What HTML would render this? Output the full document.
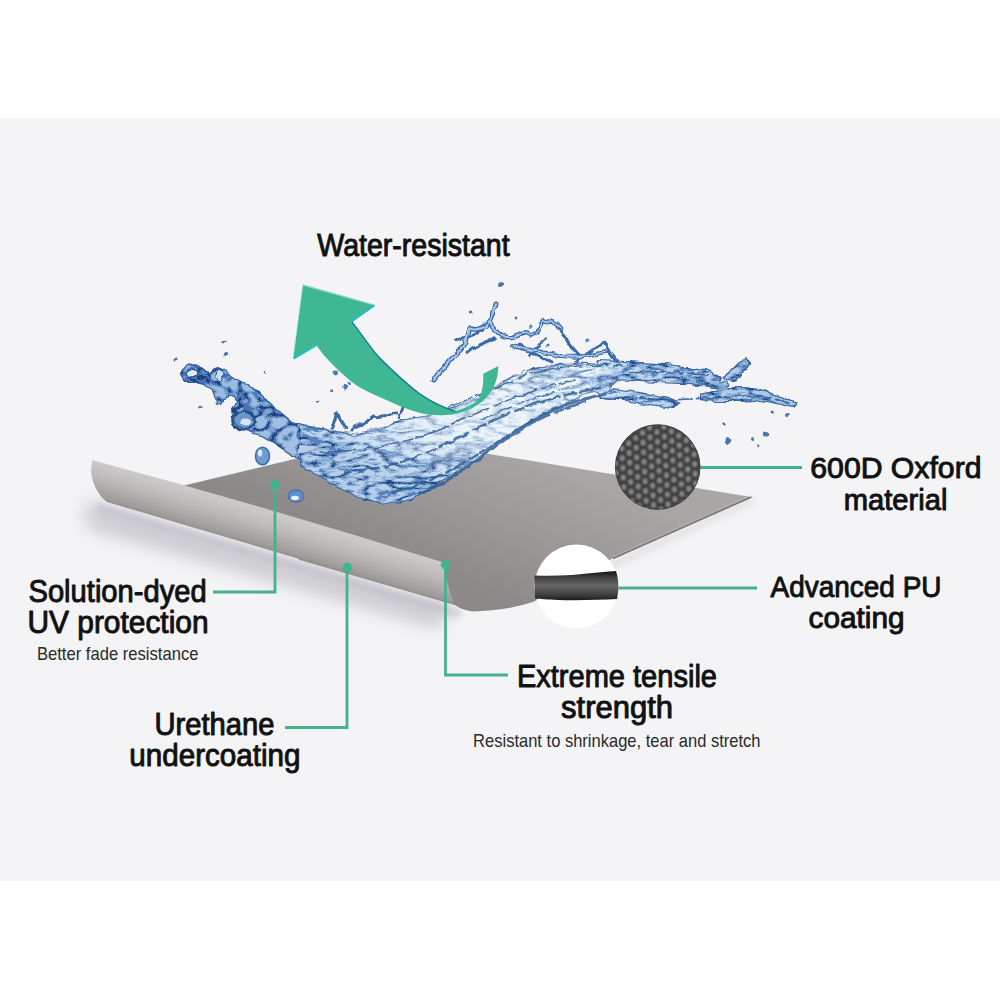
<!DOCTYPE html>
<html><head><meta charset="utf-8">
<style>
html,body{margin:0;padding:0;background:#fff;}
body{width:1000px;height:1000px;overflow:hidden;position:relative;font-family:"Liberation Sans",sans-serif;}
svg{position:absolute;left:0;top:0;display:block;}
.t{font-family:"Liberation Sans",sans-serif;fill:#111;stroke:#111;stroke-width:0.95px;stroke-linejoin:round;}
.s{font-family:"Liberation Sans",sans-serif;fill:#2a2a2a;}
</style></head>
<body>
<svg width="1000" height="1000" viewBox="0 0 1000 1000">
<defs>
  <linearGradient id="flatG" gradientUnits="userSpaceOnUse" x1="560" y1="460" x2="500" y2="600">
    <stop offset="0" stop-color="#aaa6a6"/>
    <stop offset="0.5" stop-color="#9d9999"/>
    <stop offset="1" stop-color="#8d8989"/>
  </linearGradient>
  <linearGradient id="curlG" gradientUnits="userSpaceOnUse" x1="92" y1="460" x2="92" y2="498" gradientTransform="rotate(16.5 92 460)">
    <stop offset="0" stop-color="#ccc9c9"/>
    <stop offset="0.1" stop-color="#c8c5c5"/>
    <stop offset="0.35" stop-color="#bfbbbb"/>
    <stop offset="0.6" stop-color="#b0acac"/>
    <stop offset="0.85" stop-color="#a09c9c"/>
    <stop offset="1" stop-color="#8d8989"/>
  </linearGradient>
  <filter id="blur6" x="-20%" y="-50%" width="140%" height="200%"><feGaussianBlur stdDeviation="9"/></filter>
  <filter id="blur3" x="-20%" y="-50%" width="140%" height="200%"><feGaussianBlur stdDeviation="3"/></filter>

  <pattern id="mesh" patternUnits="userSpaceOnUse" x="612" y="420" width="14.4" height="9.7" patternTransform="rotate(-3 657 467)">
    <rect width="14.4" height="9.7" fill="#3b3b3b"/>
    <ellipse cx="3.6" cy="2.4" rx="2.4" ry="2.9" fill="#8c8c8c"/>
    <ellipse cx="3.6" cy="12.1" rx="2.4" ry="2.9" fill="#8c8c8c"/>
    <ellipse cx="10.8" cy="7.25" rx="2.4" ry="2.9" fill="#8c8c8c"/>
    <ellipse cx="10.8" cy="-2.45" rx="2.4" ry="2.9" fill="#8c8c8c"/>
  </pattern>
  <filter id="soft" x="-5%" y="-5%" width="110%" height="110%"><feGaussianBlur stdDeviation="1"/></filter>
  <linearGradient id="puG" gradientUnits="userSpaceOnUse" x1="0" y1="573" x2="0" y2="601">
    <stop offset="0" stop-color="#1e1e1e"/>
    <stop offset="0.12" stop-color="#3a3a3a"/>
    <stop offset="0.45" stop-color="#676767"/>
    <stop offset="0.8" stop-color="#3c3c3c"/>
    <stop offset="1" stop-color="#151515"/>
  </linearGradient>
  <linearGradient id="waterG" gradientUnits="userSpaceOnUse" x1="180" y1="380" x2="330" y2="440">
    <stop offset="0" stop-color="#a8c3e5"/>
    <stop offset="1" stop-color="#b8cfea"/>
  </linearGradient>
  <linearGradient id="basinG" gradientUnits="userSpaceOnUse" x1="480" y1="380" x2="420" y2="500">
    <stop offset="0" stop-color="#ffffff"/>
    <stop offset="0.4" stop-color="#f4f8fc"/>
    <stop offset="1" stop-color="#cddcef"/>
  </linearGradient>
  <linearGradient id="tailG" gradientUnits="userSpaceOnUse" x1="590" y1="0" x2="800" y2="0">
    <stop offset="0" stop-color="#e6eef8"/>
    <stop offset="0.4" stop-color="#cfdff1"/>
    <stop offset="1" stop-color="#bcd1ea"/>
  </linearGradient>
  <filter id="wArm" x="-10%" y="-10%" width="120%" height="120%" color-interpolation-filters="sRGB">
    <feTurbulence type="fractalNoise" baseFrequency="0.07" numOctaves="2" seed="4" result="dn"/>
    <feDisplacementMap in="SourceGraphic" in2="dn" scale="7" xChannelSelector="R" yChannelSelector="G" result="disp"/>
    <feTurbulence type="turbulence" baseFrequency="0.05 0.065" numOctaves="2" seed="5" result="n"/>
    <feColorMatrix in="n" type="matrix" values="1 0 0 0 0  1 0 0 0 0  1 0 0 0 0  0 0 0 0 1" result="g"/>
    <feComponentTransfer in="g" result="p">
      <feFuncR type="discrete" tableValues="0.170 0.430 0.690 0.900 0.900 0.900 0.690 0.430 0.900 0.900"/>
      <feFuncG type="discrete" tableValues="0.330 0.590 0.800 0.940 0.940 0.940 0.800 0.590 0.940 0.940"/>
      <feFuncB type="discrete" tableValues="0.550 0.780 0.905 0.976 0.976 0.976 0.905 0.780 0.976 0.976"/>
    </feComponentTransfer>
    <feBlend in="p" in2="disp" mode="multiply" result="m"/>
    <feComposite in="m" in2="disp" operator="in"/>
  </filter>
  <filter id="wBasin" x="-10%" y="-10%" width="120%" height="120%" color-interpolation-filters="sRGB">
    <feTurbulence type="fractalNoise" baseFrequency="0.07" numOctaves="2" seed="4" result="dn"/>
    <feDisplacementMap in="SourceGraphic" in2="dn" scale="7" xChannelSelector="R" yChannelSelector="G" result="disp"/>
    <feTurbulence type="turbulence" baseFrequency="0.03 0.09" numOctaves="3" seed="8" result="n"/>
    <feColorMatrix in="n" type="matrix" values="1 0 0 0 0  1 0 0 0 0  1 0 0 0 0  0 0 0 0 1" result="g"/>
    <feComponentTransfer in="g" result="p">
      <feFuncR type="discrete" tableValues="0.170 0.430 0.690 0.900 0.900 0.690 0.430 0.690 0.900 0.900"/>
      <feFuncG type="discrete" tableValues="0.330 0.590 0.800 0.940 0.940 0.800 0.590 0.800 0.940 0.940"/>
      <feFuncB type="discrete" tableValues="0.550 0.780 0.905 0.976 0.976 0.905 0.780 0.905 0.976 0.976"/>
    </feComponentTransfer>
    <feBlend in="p" in2="disp" mode="multiply" result="m"/>
    <feComposite in="m" in2="disp" operator="in"/>
  </filter>
  <filter id="wEdge" x="-10%" y="-10%" width="120%" height="120%" color-interpolation-filters="sRGB">
    <feTurbulence type="fractalNoise" baseFrequency="0.07" numOctaves="2" seed="4" result="dn"/>
    <feDisplacementMap in="SourceGraphic" in2="dn" scale="7" xChannelSelector="R" yChannelSelector="G" result="disp"/>
    <feMorphology in="disp" operator="erode" radius="1.3" result="er"/>
    <feComposite in="disp" in2="er" operator="out" result="edge"/>
    <feFlood flood-color="#2f5c96" flood-opacity="0.85"/>
    <feComposite in2="edge" operator="in"/>
  </filter>
  <linearGradient id="basinLight" gradientUnits="userSpaceOnUse" x1="430" y1="470" x2="620" y2="360">
    <stop offset="0" stop-color="#f2f8fd" stop-opacity="0"/>
    <stop offset="0.5" stop-color="#f2f8fd" stop-opacity="0.5"/>
    <stop offset="0.8" stop-color="#f2f8fd" stop-opacity="0.35"/>
    <stop offset="1" stop-color="#f2f8fd" stop-opacity="0.05"/>
  </linearGradient>
  <filter id="wob" x="-10%" y="-10%" width="120%" height="120%">
    <feTurbulence type="fractalNoise" baseFrequency="0.12" numOctaves="2" seed="6" result="dn"/>
    <feDisplacementMap in="SourceGraphic" in2="dn" scale="5" xChannelSelector="R" yChannelSelector="G"/>
  </filter>
  <radialGradient id="basinCenter" gradientUnits="userSpaceOnUse" cx="450" cy="425" r="85" gradientTransform="translate(450 425) scale(1.4 0.6) rotate(-20) translate(-450 -425)">
    <stop offset="0" stop-color="#f4f9fd" stop-opacity="0.6"/>
    <stop offset="0.6" stop-color="#f4f9fd" stop-opacity="0.35"/>
    <stop offset="1" stop-color="#f4f9fd" stop-opacity="0"/>
  </radialGradient>
</defs>
<rect x="0" y="0" width="1000" height="1000" fill="#ffffff"/>
<rect x="0" y="118" width="1000" height="763" fill="#f4f4f6"/>

<!-- shadow under curl -->
<path d="M 84,502 L 450,608 L 440,628 L 88,528 Z" fill="#a4a4ad" opacity="0.55" filter="url(#blur6)"/>
<path d="M 95,502 L 462,610 L 458,618 L 98,512 Z" fill="#aeaeb5" opacity="0.5" filter="url(#blur3)"/>
<path d="M 751,497 L 613,560 L 600,575 L 755,503 Z" fill="#c4c4ca" opacity="0.35" filter="url(#blur3)"/>

<!-- flat sheet -->
<path d="M 184,485.5 L 386,437 L 751,497 L 613,558 Q 560,588 533,602 Q 505,611 472,611.5 Q 460,609 455,605 L 300,560 Z" fill="url(#flatG)"/>
<path d="M 749,496.2 L 613,556.8" stroke="#bcb8b8" stroke-width="1" fill="none" opacity="0.8"/>
<path d="M 751.5,497 L 613,558.6" stroke="#7a7676" stroke-width="1.6" fill="none"/>
<!-- curl -->
<path d="M 92,460 Q 267,507 442,562 C 446,575 448,590 455,605 L 107,502 C 99,496 93,486 91,472 Z" fill="url(#curlG)"/>


<!-- water -->
<g id="water">
  <g filter="url(#wArm)">
    <path fill="url(#waterG)" d="M 181,372 L 186,366 L 193,364 L 198,366 L 203,370 L 210,372 L 214,368 L 220,367 L 226,370 L 232,376 L 240,380 L 248,384 L 256,391 L 264,398 L 272,405 L 282,413 L 292,421 L 305,426 L 325,430 L 330,475 L 310,466 L 296,458 L 282,449 L 270,441 L 258,434 L 248,431 L 240,428 L 234,420 L 232,410 L 236,402 L 232,397 L 224,398 L 220,404 L 216,405 L 215,396 L 212,388 L 204,385 L 196,383 L 188,383 L 183,380 Z"/>
  </g>
  <g filter="url(#wBasin)">
    <path fill="url(#basinG)" d="M 300,424.4 L 328,430 L 356,434 L 384,427 L 406,419 L 426,416 L 454,407.6 L 482,396.4 L 501.6,382.4 L 524,371.2 L 552,365.6 L 580,362.8 L 620,364 L 622,380 L 600,392 L 580,396.4 L 552,410.4 L 524,424.4 L 496,444 L 482,455.2 L 468,466.4 L 440,483.2 L 412,500 L 384,505.6 L 356,497.2 L 328,483.2 L 300,466.4 Z"/>
    <path fill="url(#tailG)" fill-rule="evenodd" d="M 596,360 L 625,361 L 655,363 L 685,366 L 705,369 L 722,376 L 730,385 L 720,389 L 700,386 L 680,384 L 655,383 L 630,381 L 605,379 Z M 596,386 L 620,389 L 645,393 L 668,397 L 682,403 L 672,408 L 650,405 L 625,401 L 600,398 Z M 700,394 L 725,387 L 745,387 L 765,390 L 781,396 L 797,403 L 792,409 L 776,405 L 755,401 L 735,402 L 715,402 L 700,400 Z M 722,381 L 730,370 L 738,362 L 746,358 L 750,363 L 743,372 L 735,383 Z"/>
  </g>
  <g filter="url(#wob)">
    <ellipse cx="243" cy="420.5" rx="11.5" ry="9" fill="#6a96cc" stroke="#24508a" stroke-width="2.6"/>
    <ellipse cx="246" cy="422" rx="5" ry="3.5" fill="#d7e6f5"/>
    <ellipse cx="192" cy="373" rx="6" ry="4" fill="#dfeaf6" stroke="#24508a" stroke-width="1.5"/>
    <ellipse cx="220" cy="375" rx="4" ry="5" fill="#c9dcf0" stroke="#2d5a93" stroke-width="1.4"/>
  </g>
  <g filter="url(#wEdge)">
    <path fill="#000" d="M 181,372 L 186,366 L 193,364 L 198,366 L 203,370 L 210,372 L 214,368 L 220,367 L 226,370 L 232,376 L 240,380 L 248,384 L 256,391 L 264,398 L 272,405 L 282,413 L 292,421 L 305,426 L 325,430 L 330,475 L 310,466 L 296,458 L 282,449 L 270,441 L 258,434 L 248,431 L 240,428 L 234,420 L 232,410 L 236,402 L 232,397 L 224,398 L 220,404 L 216,405 L 215,396 L 212,388 L 204,385 L 196,383 L 188,383 L 183,380 Z"/>
    <path fill="#000" d="M 300,424.4 L 328,430 L 356,434 L 384,427 L 406,419 L 426,416 L 454,407.6 L 482,396.4 L 501.6,382.4 L 524,371.2 L 552,365.6 L 580,362.8 L 620,364 L 622,380 L 600,392 L 580,396.4 L 552,410.4 L 524,424.4 L 496,444 L 482,455.2 L 468,466.4 L 440,483.2 L 412,500 L 384,505.6 L 356,497.2 L 328,483.2 L 300,466.4 Z"/>
    <path fill="#000" fill-rule="evenodd" d="M 596,360 L 625,361 L 655,363 L 685,366 L 705,369 L 722,376 L 730,385 L 720,389 L 700,386 L 680,384 L 655,383 L 630,381 L 605,379 Z M 596,386 L 620,389 L 645,393 L 668,397 L 682,403 L 672,408 L 650,405 L 625,401 L 600,398 Z M 700,394 L 725,387 L 745,387 L 765,390 L 781,396 L 797,403 L 792,409 L 776,405 L 755,401 L 735,402 L 715,402 L 700,400 Z M 722,381 L 730,370 L 738,362 L 746,358 L 750,363 L 743,372 L 735,383 Z"/>
  </g>
  <path fill="url(#basinLight)" d="M 300,424.4 L 328,430 L 356,434 L 384,427 L 406,419 L 426,416 L 454,407.6 L 482,396.4 L 501.6,382.4 L 524,371.2 L 552,365.6 L 580,362.8 L 620,364 L 622,380 L 600,392 L 580,396.4 L 552,410.4 L 524,424.4 L 496,444 L 482,455.2 L 468,466.4 L 440,483.2 L 412,500 L 384,505.6 L 356,497.2 L 328,483.2 L 300,466.4 Z"/>
  <path fill="url(#basinCenter)" d="M 300,424.4 L 328,430 L 356,434 L 384,427 L 406,419 L 426,416 L 454,407.6 L 482,396.4 L 501.6,382.4 L 524,371.2 L 552,365.6 L 580,362.8 L 620,364 L 622,380 L 600,392 L 580,396.4 L 552,410.4 L 524,424.4 L 496,444 L 482,455.2 L 468,466.4 L 440,483.2 L 412,500 L 384,505.6 L 356,497.2 L 328,483.2 L 300,466.4 Z"/>
  <g fill="none" stroke="#2f5e98" stroke-linecap="round" opacity="0.85" filter="url(#wob)" stroke-dasharray="34 5 14 4 22 6 9 3">
    <path stroke-width="3.2" stroke-dasharray="none" d="M 420,494 C 440,486 460,472 480,458 C 500,442 520,428 545,414 C 565,404 585,398 605,394"/>
    <path stroke-width="2.2" d="M 345,472 C 385,470 425,456 462,436 C 500,416 540,398 600,388"/>
    <path stroke-width="1.6" d="M 320,452 C 365,452 408,444 448,426 C 488,408 528,390 575,380"/>
    <path stroke-width="2.4" d="M 392,492 C 424,486 452,470 482,452 C 512,432 545,414 585,402"/>
    <path stroke-width="1.6" d="M 440,410 C 470,400 500,386 530,373 C 560,366 590,364 622,366"/>
    <path stroke-width="1.4" d="M 480,420 C 505,410 530,398 560,390"/>
    <path stroke-width="1.8" d="M 630,372 C 660,370 690,374 720,376"/>
    <path stroke-width="1.8" d="M 640,398 C 670,402 700,398 740,396 C 760,396 775,398 790,404"/>
  </g>
  <g fill="none" stroke="#3c6ca8" stroke-width="1.1" stroke-linecap="round" stroke-linejoin="round" opacity="0.6" filter="url(#wob)">
    <path d="M 300,424.4 L 328,430 L 356,434 L 384,427 L 406,419 L 426,416 L 454,407.6 L 482,396.4 L 501.6,382.4 L 524,371.2 L 552,365.6 L 580,362.8"/>
  </g>
  <g filter="url(#wob)">
    <g fill="none" stroke="#3b6aa7" stroke-linecap="round" stroke-linejoin="round">
      <path stroke-width="5" d="M 434,380 C 445,366 452,358 458,352 C 464,346 468,336 470,328 C 476,332 482,328 486,325 C 492,320 494,312 496,304"/>
      <path stroke-width="4.4" d="M 490,322 C 496,334 504,338 512,337 C 520,334 526,330 530,334 C 536,336 540,330 543,320 C 548,322 554,320 560,328"/>
      <path stroke-width="3.4" d="M 468,352 C 476,346 486,342 494,339"/>
      <path stroke-width="4" d="M 512,346 C 528,350 545,352 560,356 C 575,358 590,356 605,352"/>
      <path stroke-width="3.2" d="M 332,428 C 334,422 335,417 337,414 C 340,418 342,424 346,428"/>
      <path stroke-width="3" d="M 352,430 C 356,426 360,424 365,423 C 369,420 371,417 374,416 C 378,418 382,416 386,415 C 390,414 393,413 396,413"/>
      <path stroke-width="2.6" d="M 398,418 C 402,410 406,404 410,400"/>
      <path stroke-width="3" d="M 520,345 C 530,352 540,358 552,362"/>
      <path stroke-width="3" d="M 575,362 C 585,355 595,348 604,343 C 608,350 612,356 618,362"/>
      <path stroke-width="2.6" d="M 455,340 C 465,338 475,336 482,330"/>
      <path stroke-width="2.4" d="M 530,356 C 536,348 540,342 546,338"/>
      <path stroke-width="3.4" d="M 560,330 C 566,340 572,348 580,356"/>
    </g>
    <g fill="none" stroke="#a9c7e8" stroke-linecap="round" stroke-linejoin="round">
      <path stroke-width="2.2" d="M 434,380 C 445,366 452,358 458,352 C 464,346 468,336 470,328 C 476,332 482,328 486,325 C 492,320 494,312 496,304"/>
      <path stroke-width="1.8" d="M 490,322 C 496,334 504,338 512,337 C 520,334 526,330 530,334 C 536,336 540,330 543,320 C 548,322 554,320 560,328"/>
      <path stroke-width="1.8" d="M 512,346 C 528,350 545,352 560,356 C 575,358 590,356 605,352"/>
    </g>
    <g fill="#4a78b2">
      <ellipse cx="501.6" cy="285" rx="3.5" ry="3"/>
      <circle cx="225" cy="355" r="2.2"/>
      <circle cx="530" cy="326" r="1.8"/>
      <circle cx="548" cy="345" r="1.6"/>
      <circle cx="470" cy="312" r="1.5"/>
      <circle cx="516" cy="318" r="1.4"/>
      <circle cx="588" cy="340" r="1.5"/>
      <circle cx="335.6" cy="373" r="2.4"/>
      <ellipse cx="344" cy="387.5" rx="2.6" ry="3"/>
      <circle cx="349" cy="384" r="2"/>
      <circle cx="331.6" cy="390.8" r="1.5"/>
      <circle cx="318" cy="402" r="1.3"/>
      <circle cx="265" cy="372" r="1.3"/>
      <circle cx="224" cy="342" r="1.6"/>
      <circle cx="176" cy="359" r="1.6"/>
      <circle cx="200" cy="407" r="1.6"/>
      <circle cx="724" cy="424" r="1.8"/>
      <ellipse cx="728" cy="440" rx="2.4" ry="3"/>
      <circle cx="752" cy="439" r="2"/>
      <ellipse cx="765" cy="434" rx="3.2" ry="2.6"/>
      <circle cx="772" cy="412" r="1.5"/>
      <circle cx="788" cy="414" r="2"/>
      <circle cx="758" cy="447" r="1.4"/>
    </g>
  </g>
  <!-- drops -->
  <ellipse cx="262.5" cy="456" rx="7" ry="8.7" fill="#6f9dd3" stroke="#3f6eaa" stroke-width="1.6"/>
  <ellipse cx="260" cy="453" rx="2.2" ry="3.4" fill="#d8e8f7"/>
  <ellipse cx="296" cy="496" rx="8" ry="6" fill="#5f8fcb" stroke="#3a69a6" stroke-width="1"/>
  <ellipse cx="295" cy="498" rx="4" ry="2.2" fill="#e6f0fa"/>
</g>

<!-- arrow -->
<path fill="#40b793" d="M 303,284.5 L 374.6,304.75 L 351.2,321 C 362,334 372,350 380,358.2 C 393,371 406,383 419,393.3 C 432,402 445,408 455.4,410.9 C 465,408.5 474,404 479,399 C 482.5,393 483.5,382 483.4,373.8 L 498.3,366 C 498,378 495,388 486.6,397.2 C 479,405.5 468,411.5 452.8,414.6 C 440,416 428,415 419,412.8 C 405,409 393,403 380,397.2 C 368,392 360,388 352.5,382.5 C 340,372 326,360 316.1,344.8 L 293.2,358.3 Z"/>
<path fill="none" stroke="#1fbccc" stroke-width="1.8" d="M 374.6,305.2 L 351.6,321.4"/>
<path fill="none" stroke="#15838e" stroke-width="1.5" d="M 351.6,321.6 C 362,334.4 372,350.4 380.2,358.6 C 393,371.4 406,383.4 419.2,393.7 C 432,402.4 445,408.4 455.4,411.3"/>
<path fill="none" stroke="#1fbccc" stroke-width="1.8" d="M 293.6,358.6 L 316.3,345.3"/>
<path fill="none" stroke="#a6ecdf" stroke-width="0.9" opacity="0.8" d="M 293,357.5 L 302.6,285.2 L 374,305"/>

<!-- green lines -->
<g stroke="#44b18f" stroke-width="2.8" fill="none">
  <path d="M 275,485 L 275,592 L 213,592"/>
  <path d="M 347,568 L 347,727.5 L 285,727.5"/>
  <path d="M 445.5,565 L 445.5,675 L 508,675"/>
  <path d="M 700,467.5 L 802,467.5"/>
  <path d="M 618,588 L 757,588"/>
</g>
<g fill="#42b48f">
  <circle cx="275" cy="484.6" r="4.8"/>
  <circle cx="347.3" cy="567.5" r="4.8"/>
  <circle cx="445.6" cy="564.8" r="4.8"/>
</g>

<!-- mesh circle -->
<clipPath id="meshClip"><circle cx="657.7" cy="467" r="42.6"/></clipPath>
<g clip-path="url(#meshClip)"><rect x="610" y="420" width="96" height="96" fill="url(#mesh)" filter="url(#soft)"/></g>
<circle cx="657.7" cy="467" r="42.3" fill="none" stroke="#3a3a3a" stroke-width="0.8"/>
<!-- PU circle -->
<circle cx="576.5" cy="586.5" r="42" fill="#ffffff"/>
<path d="M 534.5,575.5 C 555,576.5 575,575 598,572.5 C 606,571.8 612,571.2 616,571 C 619,580 619,590 617,599 C 600,600 578,600.5 558,600 C 548,599.5 540,599 535,598.5 Z" fill="url(#puG)"/>

<!-- texts -->
<text class="t" x="317.3" y="256" font-size="30.5" textLength="192.3" lengthAdjust="spacingAndGlyphs">Water-resistant</text>
<text class="t" x="810.3" y="478" font-size="30" textLength="171.2" lengthAdjust="spacingAndGlyphs">600D Oxford</text>
<text class="t" x="843.7" y="510" font-size="30" textLength="103.7" lengthAdjust="spacingAndGlyphs">material</text>
<text class="t" x="770.5" y="596.5" font-size="30" textLength="171.0" lengthAdjust="spacingAndGlyphs">Advanced PU</text>
<text class="t" x="808.5" y="628" font-size="30" textLength="96.1" lengthAdjust="spacingAndGlyphs">coating</text>
<text class="t" x="28.5" y="601.6" font-size="30.5" textLength="178.1" lengthAdjust="spacingAndGlyphs">Solution-dyed</text>
<text class="t" x="27.5" y="633" font-size="30.5" textLength="181.0" lengthAdjust="spacingAndGlyphs">UV protection</text>
<text class="s" x="36.9" y="660.4" font-size="17.8" textLength="161.6" lengthAdjust="spacingAndGlyphs">Better fade resistance</text>
<text class="t" x="154.5" y="735" font-size="30.5" textLength="120.0" lengthAdjust="spacingAndGlyphs">Urethane</text>
<text class="t" x="129.3" y="766" font-size="30.5" textLength="171.2" lengthAdjust="spacingAndGlyphs">undercoating</text>
<text class="t" x="516.9" y="686.8" font-size="30.5" textLength="200.1" lengthAdjust="spacingAndGlyphs">Extreme tensile</text>
<text class="t" x="561.1" y="718" font-size="30.5" textLength="112.0" lengthAdjust="spacingAndGlyphs">strength</text>
<text class="s" x="473.1" y="747.3" font-size="17.8" textLength="287.4" lengthAdjust="spacingAndGlyphs">Resistant to shrinkage, tear and stretch</text>
</svg>
</body></html>
